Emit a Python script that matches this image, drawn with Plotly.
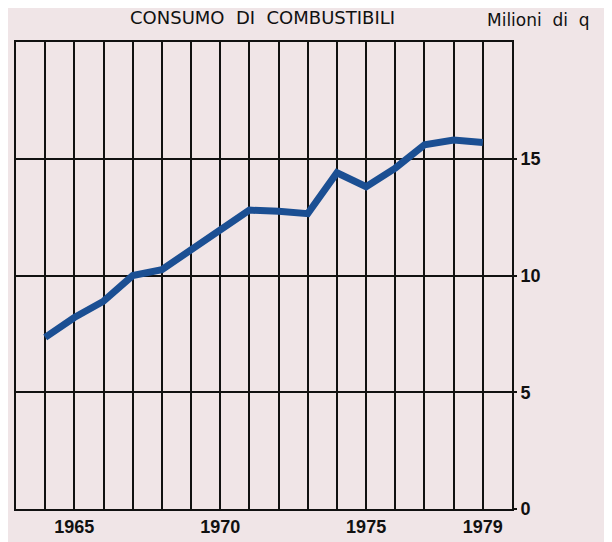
import plotly.graph_objects as go

years = list(range(1964, 1980))
consumo = [7.35, 8.2, 8.9, 10.0, 10.25, 11.1, 12.0, 12.8, 12.75, 12.65, 14.4, 13.8, 14.6, 15.6, 15.8, 15.7]
year_labels = {1965: "1965", 1970: "1970", 1975: "1975", 1979: "1979"}
y_ticks = [0, 5, 10, 15]

W, H = 612, 542
OFF = 8  # page body margin
L, R, T, B = 14 - OFF, W - 512 + OFF, 42 - OFF, H - 509 + OFF
pw, ph = W - L - R, H - T - B

def px_to_paper(x, y):
    return (x - OFF - L) / pw, (H - B - (y - OFF)) / ph

bg = "#f0e5e7"
fig = go.Figure()
fig.add_trace(go.Scatter(x=years, y=consumo, mode="lines",
                         line=dict(color="#1b4f93", width=7), hoverinfo="skip"))

tx, ty = px_to_paper(261, 17)
mx, my = px_to_paper(539, 20)

fig.update_layout(
    width=W, height=H,
    margin=dict(l=L, r=R, t=T, b=B),
    paper_bgcolor=bg, plot_bgcolor=bg,
    showlegend=False,
    font=dict(family="Liberation Sans, Arial, sans-serif", color="#111111"),
    xaxis=dict(range=[1963, 1980], tickvals=years,
               ticktext=[year_labels.get(y, "") for y in years],
               showgrid=True, gridcolor="#111111", gridwidth=2,
               showline=True, linecolor="#111111", linewidth=2, mirror=True,
               zeroline=False, ticks="", fixedrange=True,
               tickfont=dict(size=18, weight="bold")),
    yaxis=dict(range=[0, 20], tickvals=y_ticks, side="right",
               showgrid=True, gridcolor="#111111", gridwidth=2,
               showline=True, linecolor="#111111", linewidth=2, mirror=True,
               zeroline=False, ticks="outside", ticklen=3, tickwidth=2, tickcolor="#111111",
               tickfont=dict(size=18, weight="bold"), fixedrange=True),
    annotations=[
        dict(text="CONSUMO  DI  COMBUSTIBILI", x=tx, y=ty, xref="paper", yref="paper",
             xanchor="center", yanchor="middle",
             showarrow=False, font=dict(size=18, family="DejaVu Sans")),
        dict(text="Milioni  di  q", x=mx, y=my, xref="paper", yref="paper",
             xanchor="center", yanchor="middle",
             showarrow=False, font=dict(size=17, family="DejaVu Sans")),
    ],
)

fig.write_html("out.html")
